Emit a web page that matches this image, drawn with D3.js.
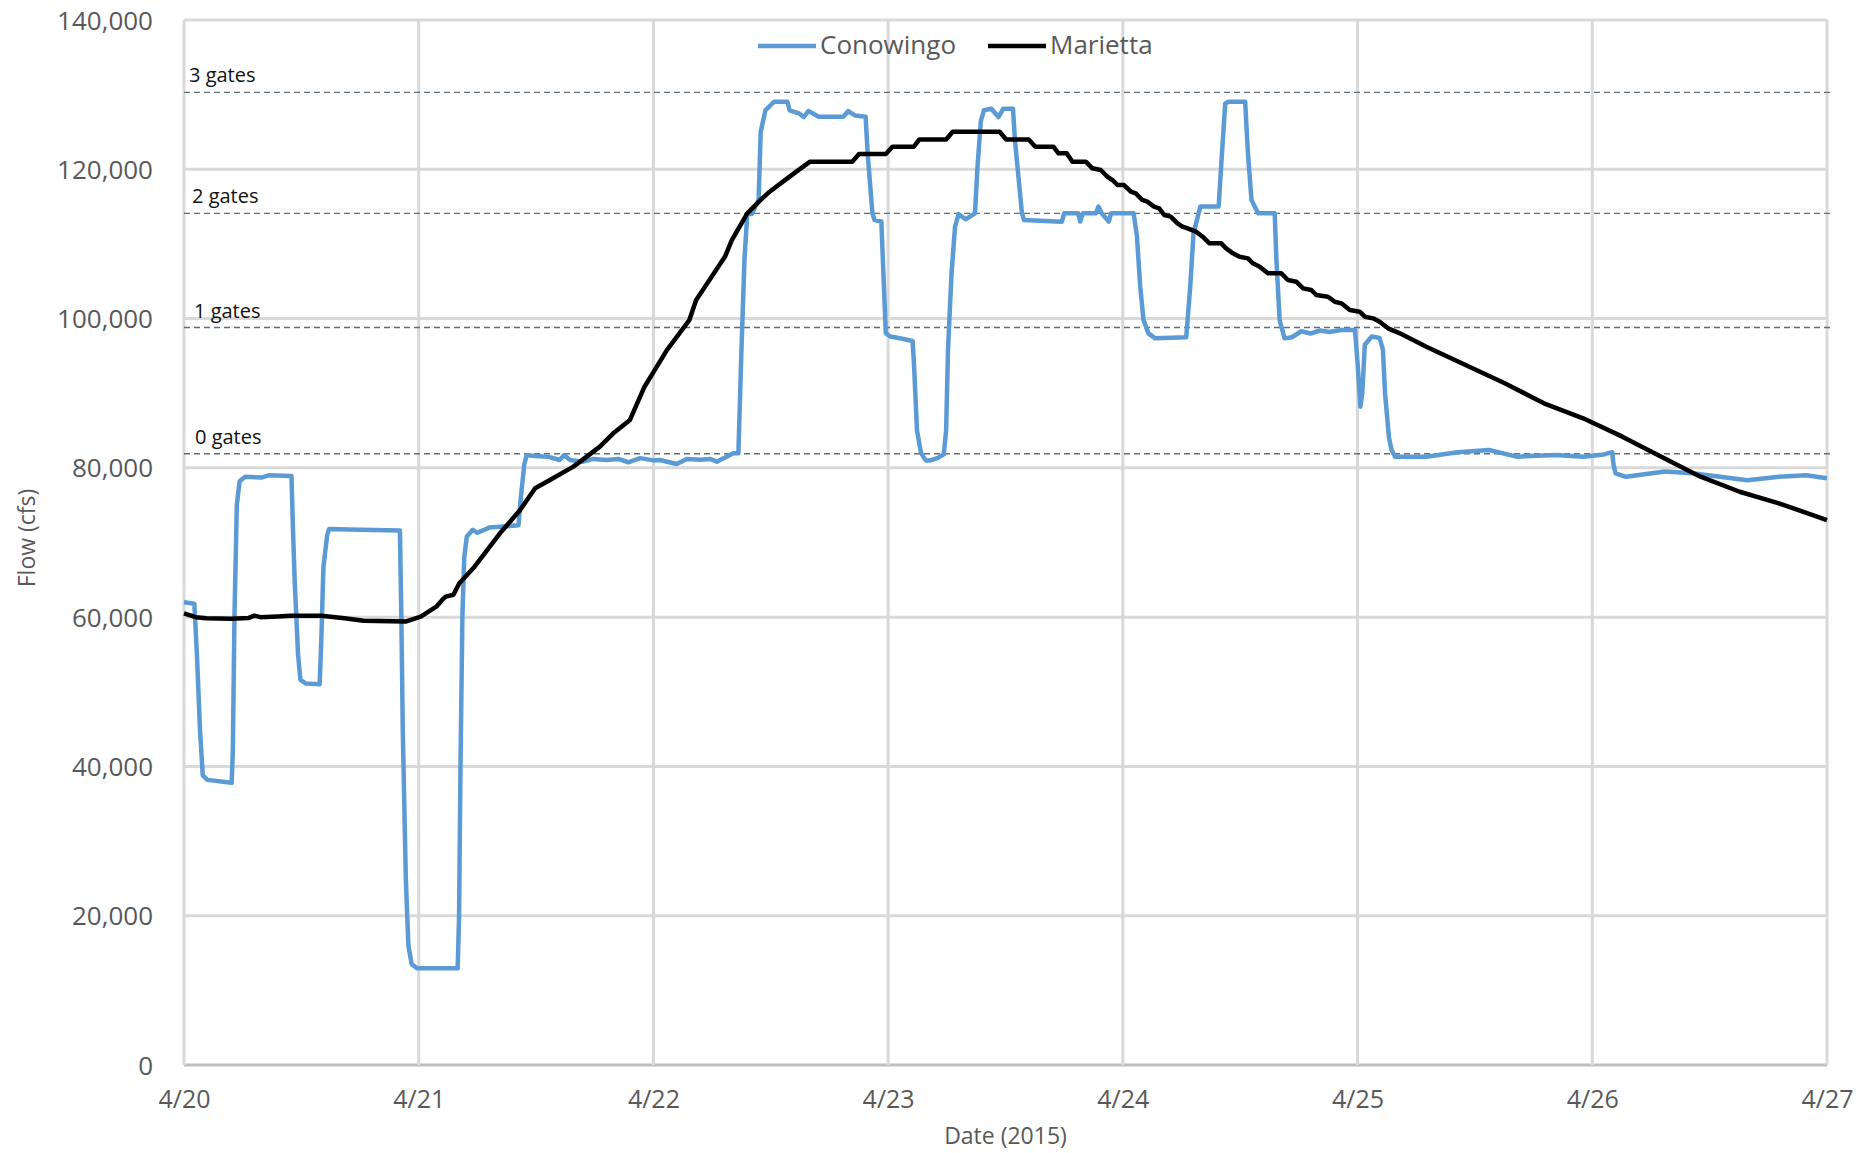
<!DOCTYPE html>
<html>
<head>
<meta charset="utf-8">
<script src="https://cdn.jsdelivr.net/npm/d3@7"></script>
<style>
  html, body { margin: 0; padding: 0; background: #fff; }
  svg { display: block; }
  text { font-family: "Open Sans", "Liberation Sans", sans-serif; }
</style>
</head>
<body>
<svg id="chart" width="1864" height="1153"></svg>
<script>
// ---------- data ----------
const startDate = new Date(2015, 3, 20);
const xTickLabels = ["4/20", "4/21", "4/22", "4/23", "4/24", "4/25", "4/26", "4/27"];
const yTicks = [0, 20000, 40000, 60000, 80000, 100000, 120000, 140000];
const seriesNames = ["Conowingo", "Marietta"];
const gateLabels = ["3 gates", "2 gates", "1 gates", "0 gates"];
const gateLevels = [130300, 114100, 98800, 81900];

// days since 4/20 00:00
const conowingoDays = [0, 0.044, 0.055, 0.068, 0.08, 0.1, 0.203, 0.208, 0.215, 0.225, 0.237, 0.26, 0.33, 0.36, 0.458,
  0.464, 0.472, 0.486, 0.496, 0.52, 0.578, 0.585, 0.594, 0.61, 0.618, 0.75, 0.92, 0.926, 0.932, 0.945, 0.956, 0.97,
  0.994, 1.166, 1.172, 1.178, 1.186, 1.194, 1.205, 1.23, 1.25, 1.3, 1.425, 1.435, 1.45, 1.46, 1.5, 1.55, 1.6, 1.62,
  1.645, 1.7, 1.744, 1.801, 1.85, 1.893, 1.943, 2.0, 2.028, 2.099, 2.142, 2.2, 2.241, 2.27, 2.312, 2.34, 2.362,
  2.375, 2.388, 2.4, 2.419, 2.448, 2.457, 2.477, 2.514, 2.571,
  2.58, 2.62, 2.64, 2.66, 2.704, 2.809, 2.83, 2.86, 2.904, 2.913, 2.933, 2.942, 2.971, 2.99, 3.009, 3.06, 3.104,
  3.11, 3.123, 3.14, 3.16, 3.18, 3.21, 3.237, 3.247, 3.255, 3.27, 3.285, 3.3, 3.33, 3.37, 3.38, 3.395, 3.408, 3.44,
  3.47, 3.49, 3.532, 3.54, 3.57, 3.579, 3.74, 3.75, 3.81, 3.818, 3.83, 3.885, 3.896, 3.91, 3.94, 3.95, 4.046,
  4.06, 4.074, 4.088, 4.109, 4.138, 4.27, 4.287, 4.301, 4.33, 4.408, 4.418, 4.436, 4.45, 4.521, 4.533, 4.548,
  4.576, 4.647, 4.654, 4.668, 4.689, 4.72, 4.76, 4.8, 4.84, 4.88, 4.93, 4.989, 5.0, 5.012, 5.02, 5.031, 5.06,
  5.094, 5.108, 5.117, 5.134, 5.145, 5.16, 5.293, 5.426, 5.56, 5.677, 5.844, 5.961, 6.05, 6.085, 6.09, 6.099,
  6.144, 6.31, 6.427, 6.544, 6.661, 6.795, 6.911, 7.0];
const conowingoFlow = [62000, 61800, 55000, 45000, 38800, 38200, 37800, 42000, 60000, 75000, 78200, 78800, 78700, 79000, 78900,
  72000, 64500, 55000, 51600, 51100, 51000, 57000, 66700, 71000, 71800, 71700, 71600, 60000, 45000, 25000, 16000, 13500,
  12950, 12950, 20000, 40000, 60000, 68000, 70800, 71700, 71300, 72000, 72300, 76000, 80500, 81700, 81600, 81500, 81050, 81700,
  81050, 80830, 81200, 81050, 81200, 80750, 81300, 81000, 81050, 80520, 81200, 81100, 81200, 80830, 81500, 81950, 81950,
  95800, 108000, 114100, 114000, 115900, 125000, 127900, 129050, 129050,
  127900, 127500, 127000, 127800, 127050, 127050, 127800, 127200, 127050, 122000, 114100, 113200, 113000, 98050, 97600, 97300, 97000,
  94000, 85000, 82000, 81000, 81000, 81300, 81800, 85000, 95800, 106000, 112300, 114000, 113300, 114100, 120000, 126500, 127900, 128100,
  127000, 128100, 128100, 124000, 114100, 113200, 112980, 114100, 114100, 113000, 114100, 114100, 115000, 114100, 113000, 114100, 114100,
  111000, 104270, 99800, 98020, 97350, 97500, 104270, 111420, 115000, 115000, 120000, 128800, 129050, 129050, 122140, 115900,
  114100, 114100, 108000, 99800, 97350, 97500, 98300, 98000, 98400, 98200, 98470, 98470, 94000, 88200, 90000, 96500, 97600,
  97400, 95800, 90000, 84000, 82400, 81500, 81500, 82100, 82400, 81500, 81720, 81500, 81800, 82100, 80500, 79270,
  78800, 79500, 79270, 78800, 78350, 78800, 79000, 78600];

const mariettaDays = [0, 0.05, 0.096, 0.2, 0.276, 0.3, 0.325, 0.4, 0.455, 0.586, 0.684, 0.765, 0.944, 1.009, 1.05, 1.075,
  1.1, 1.115, 1.148, 1.173, 1.238, 1.346, 1.432, 1.496, 1.559, 1.659, 1.716, 1.772, 1.829, 1.9, 1.962, 2.058, 2.153,
  2.182, 2.248, 2.305, 2.334, 2.4, 2.457, 2.495, 2.552, 2.609, 2.666, 2.847, 2.876, 2.99, 3.018, 3.11, 3.133, 3.247,
  3.275, 3.475, 3.503, 3.599, 3.627, 3.704, 3.726, 3.761, 3.785, 3.842, 3.870, 3.906, 3.934, 3.956, 3.977, 4.005,
  4.034, 4.055, 4.083, 4.104, 4.133, 4.155, 4.176, 4.204, 4.233, 4.254, 4.276, 4.312, 4.34, 4.369, 4.419, 4.44,
  4.469, 4.497, 4.533, 4.554, 4.583, 4.618, 4.675, 4.703, 4.739, 4.768, 4.803, 4.824, 4.874, 4.903, 4.931, 4.967,
  5.009, 5.031, 5.066, 5.094, 5.13, 5.18, 5.293, 5.46, 5.627, 5.794, 5.961, 6.128, 6.294, 6.461, 6.628, 6.795, 7.0];
const mariettaFlow = [60500, 60000, 59850, 59800, 59900, 60200, 60000, 60100, 60200, 60200, 59850, 59530, 59400, 60060, 60900, 61400,
  62300, 62740, 63000, 64530, 66760, 71230, 74350, 77260, 78370, 80160, 81500, 82840, 84630, 86420, 90870, 95800, 99800,
  102480, 105600, 108300, 110500, 114100, 115900, 117000, 118340, 119680, 121000, 121000, 122050, 122050, 123030, 123030, 124000, 124000,
  125030, 125030, 124000, 124000, 123030, 123030, 122140, 122140, 121020, 121020, 120130, 119900, 119000, 118560, 117890, 117890,
  117000, 116780, 115890, 115660, 115000, 114770, 113870, 113650, 112760, 112310, 112090, 111640, 110970, 110080, 110080, 109410,
  108740, 108290, 108070, 107400, 106950, 106060, 106060, 105170, 104940, 104050, 103830, 103160, 102930, 102260, 102040, 101150,
  100920, 100250, 100030, 99580, 98690, 98020, 96230, 93780, 91330, 88650, 86640, 84180, 81500, 78820, 76800, 75250, 73010];

// ---------- layout ----------
const svg = d3.select("#chart");
const plotLeft = 184, plotRight = 1827, plotTop = 20, plotBottom = 1065;
const DAY = 86400000;
const toDate = d => new Date(startDate.getTime() + d * DAY);

const x = d3.scaleTime().domain([startDate, toDate(7)]).range([plotLeft, plotRight]);
const y = d3.scaleLinear().domain([0, 140000]).range([plotBottom, plotTop]);

const gridColor = "#d9d9d9";
const textColor = "#595959";

// horizontal gridlines
svg.append("g").selectAll("line").data(yTicks).join("line")
  .attr("x1", plotLeft).attr("x2", plotRight)
  .attr("y1", d => y(d)).attr("y2", d => y(d))
  .attr("stroke", d => d === 0 ? "#bfbfbf" : gridColor)
  .attr("stroke-width", 3);

// vertical gridlines
const dayTicks = xTickLabels.map((_, i) => toDate(i));
svg.append("g").selectAll("line").data(dayTicks).join("line")
  .attr("x1", d => x(d)).attr("x2", d => x(d))
  .attr("y1", plotTop).attr("y2", plotBottom)
  .attr("stroke", gridColor)
  .attr("stroke-width", 3);

// y axis labels
const yAxis = d3.axisLeft(y).tickValues(yTicks).tickSize(0).tickPadding(0)
  .tickFormat(d3.format(","));
const gy = svg.append("g").attr("transform", "translate(153,0)").call(yAxis);
gy.select(".domain").remove();
gy.selectAll("text").attr("fill", textColor).style("font-size", "26px")
  .attr("dy", "0.35em");

// x axis labels
const xAxis = d3.axisBottom(x).tickValues(dayTicks).tickSize(0).tickPadding(0)
  .tickFormat((d, i) => xTickLabels[i]);
const gx = svg.append("g").attr("transform", "translate(0,1099)").call(xAxis);
gx.select(".domain").remove();
gx.selectAll("text").attr("fill", textColor).style("font-size", "25px").attr("dy", "0.35em");

// axis titles
svg.append("text").attr("x", (plotLeft + plotRight) / 2).attr("y", 1136).attr("dy", "0.35em")
  .attr("text-anchor", "middle").attr("fill", textColor).style("font-size", "23px")
  .text("Date (2015)");
svg.append("text").attr("transform", "translate(27,538) rotate(-90)").attr("dy", "0.35em")
  .attr("text-anchor", "middle").attr("fill", textColor).style("font-size", "23px")
  .text("Flow (cfs)");

// gate lines
svg.append("g").selectAll("line").data(gateLevels).join("line")
  .attr("x1", plotLeft).attr("x2", 1832)
  .attr("y1", d => y(d)).attr("y2", d => y(d))
  .attr("stroke", "#5f6e7a").attr("stroke-width", 1.4)
  .attr("stroke-dasharray", "6,4");
const gateLabelX = [189, 192, 194, 195];
svg.append("g").selectAll("text").data(gateLevels).join("text")
  .attr("x", (d, i) => gateLabelX[i]).attr("y", d => y(d) - 10)
  .attr("fill", "#111").style("font-size", "20px")
  .text((d, i) => gateLabels[i]);

// series
const line = d3.line().x(d => x(toDate(d[0]))).y(d => y(d[1]));
const conowingo = conowingoDays.map((d, i) => [d, conowingoFlow[i]]);
const marietta = mariettaDays.map((d, i) => [d, mariettaFlow[i]]);
const colors = ["#5b9bd5", "#000000"];

svg.append("path").datum(conowingo).attr("d", line)
  .attr("fill", "none").attr("stroke", colors[0]).attr("stroke-width", 4.5)
  .attr("stroke-linejoin", "round");
svg.append("path").datum(marietta).attr("d", line)
  .attr("fill", "none").attr("stroke", colors[1]).attr("stroke-width", 4.5)
  .attr("stroke-linejoin", "round");

// legend
const legendX = [758, 988];
const lg = svg.append("g");
seriesNames.forEach((name, i) => {
  lg.append("line").attr("x1", legendX[i]).attr("x2", legendX[i] + 58)
    .attr("y1", 46).attr("y2", 46).attr("stroke", colors[i]).attr("stroke-width", 4.5);
  lg.append("text").attr("x", legendX[i] + 62).attr("y", 45).attr("dy", "0.35em")
    .attr("fill", textColor).style("font-size", "26px").text(name);
});
</script>
</body>
</html>
